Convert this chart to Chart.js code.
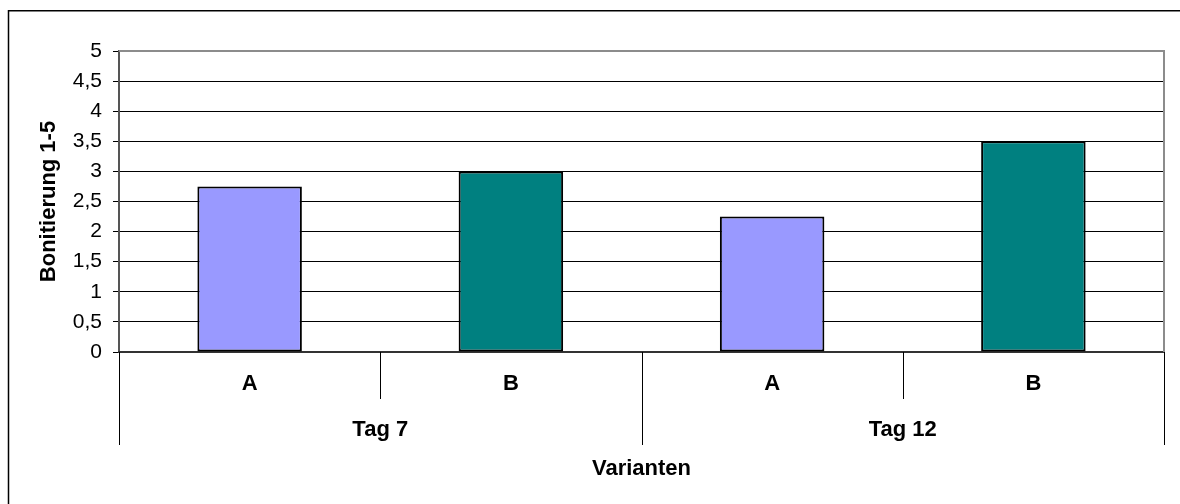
<!DOCTYPE html>
<html>
<head>
<meta charset="utf-8">
<script src="https://cdn.jsdelivr.net/npm/chart.js@4"></script>
<style>
  html, body { margin: 0; padding: 0; background: #fff; }
  #wrap { width: 1180px; height: 504px; }
</style>
</head>
<body>
<div id="wrap"><canvas id="myChart" width="1180" height="504"></canvas></div>
<script>
// Data
const varianten = ["A", "B", "A", "B"];
const tage = ["Tag 7", "Tag 12"];
const bonitierung = [2.75, 3, 2.25, 3.5];
const barColors = ["#9999FF", "#008080", "#9999FF", "#008080"];

const FONT = "'Liberation Sans', Arial, sans-serif";

// frame, plot border and the category separators
const extras = {
  id: "extras",
  beforeDraw(chart) {
    const c = chart.ctx;
    c.save();
    c.strokeStyle = "#000";
    c.lineWidth = 1.5;
    c.beginPath();
    c.moveTo(8.5, 504);
    c.lineTo(8.5, 10.75);
    c.lineTo(1180, 10.75);
    c.stroke();
    c.restore();
  },
  afterDraw(chart) {
    const c = chart.ctx;
    const a = chart.chartArea;
    const x = chart.scales.x;
    const x2 = chart.scales.x2;
    c.save();
    // plot border top/right
    c.strokeStyle = "#8c8c8c";
    c.lineWidth = 2;
    c.beginPath();
    c.moveTo(a.left, a.top);
    c.lineTo(a.right, a.top);
    c.lineTo(a.right, a.bottom);
    c.stroke();
    // separators
    c.strokeStyle = "#000";
    c.lineWidth = 1;
    c.beginPath();
    [0.5, 2.5].forEach(v => {
      const px = Math.round(x.getPixelForValue(v)) + 0.5;
      c.moveTo(px, a.bottom);
      c.lineTo(px, a.bottom + 47);
    });
    [-0.5, 0.5, 1.5].forEach(v => {
      let px = Math.round(x2.getPixelForValue(v)) + 0.5;
      c.moveTo(px, a.bottom);
      c.lineTo(px, a.bottom + 93);
    });
    c.stroke();
    c.restore();
  }
};

const data = {
  labels: varianten,
  datasets: [
    {
      label: "Bonitierung",
      data: bonitierung,
      backgroundColor: barColors,
      borderColor: "#000",
      borderWidth: 2,
      borderSkipped: false,
      categoryPercentage: 1,
      barPercentage: 0.4,
    },
  ],
};

const config = {
  type: "bar",
  data: data,
  plugins: [extras],
  options: {
    responsive: false,
    animation: false,
    layout: { padding: { left: 10, top: 51, right: 16, bottom: 12 } },
    plugins: {
      legend: { display: false },
      tooltip: { enabled: false },
    },
    scales: {
      y: {
        min: 0,
        max: 5,
        afterFit: s => { s.width = 109; },
        ticks: {
          stepSize: 0.5,
          padding: 11,
          color: "#000",
          font: { family: FONT, size: 21 },
          callback: v => String(v).replace(".", ","),
        },
        grid: {
          color: ctx => (ctx.tick && ctx.tick.value === 5 ? "#8c8c8c" : "#000"),
          tickColor: "#000",
          tickLength: 6,
          lineWidth: 1,
        },
        border: { color: "#555", width: 2 },
        title: {
          display: true,
          text: "Bonitierung 1-5",
          color: "#000",
          font: { family: FONT, size: 22, weight: "bold" },
          padding: { top: 26, bottom: 0 },
        },
      },
      x: {
        weight: 0,
        afterFit: s => { s.height = 47; },
        grid: { display: false, drawTicks: false },
        border: { color: "#333", width: 2 },
        ticks: {
          padding: 19,
          color: "#000",
          font: { family: FONT, size: 22, weight: "bold" },
        },
      },
      x2: {
        type: "category",
        position: "bottom",
        weight: 1,
        labels: tage,
        offset: true,
        afterFit: s => { s.height = 93; },
        grid: { display: false, drawTicks: false },
        border: { display: false },
        ticks: {
          padding: 18,
          color: "#000",
          font: { family: FONT, size: 22, weight: "bold" },
        },
        title: {
          display: true,
          text: "Varianten",
          color: "#000",
          font: { family: FONT, size: 22, weight: "bold" },
          padding: { top: 0, bottom: 10 },
        },
      },
    },
  },
};

// Plotting
let myChart = document.getElementById("myChart").getContext("2d");
let barChart = new Chart(myChart, config);
</script>
</body>
</html>
